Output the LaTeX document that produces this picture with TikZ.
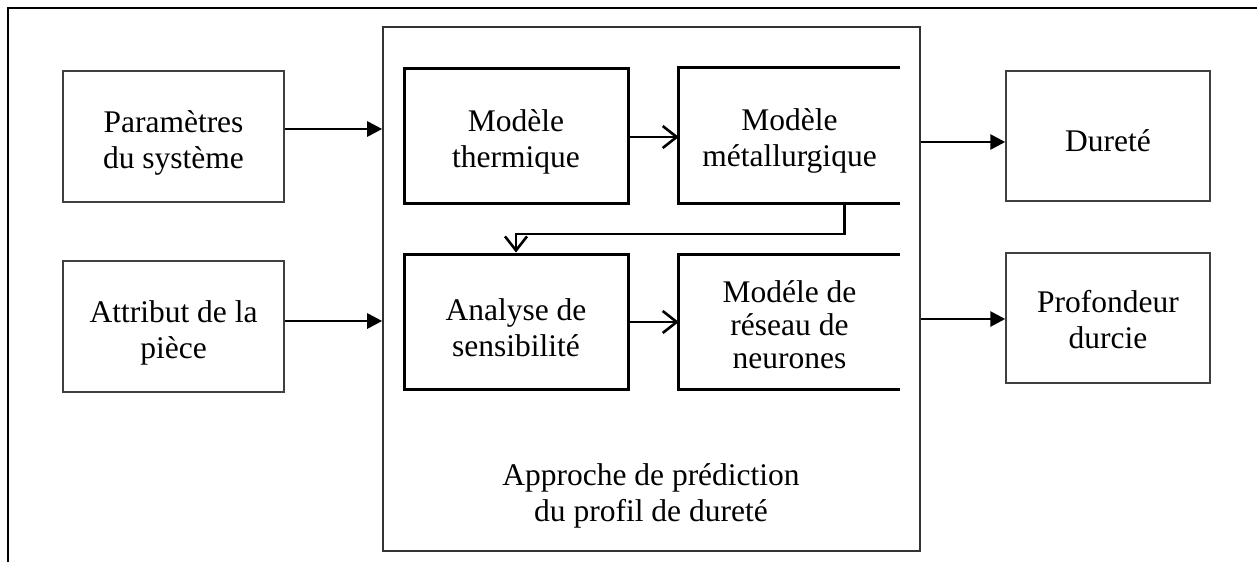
\documentclass[tikz,border=0pt]{standalone}
\usepackage{fontspec}
\setmainfont{Liberation Serif}
\usetikzlibrary{arrows.meta,calc}
\begin{document}
\begin{tikzpicture}[x=1pt,y=-1pt,
  txt/.style={font=\fontsize{31.5}{36}\selectfont, align=center, inner sep=0pt},
  outbox/.style={draw=black!75, line width=1.5pt, minimum width=221pt, minimum height=131pt, inner sep=0pt},
  rbox/.style={draw=black!75, line width=1.5pt, minimum width=204pt, minimum height=130pt, inner sep=0pt},
  inbox/.style={line width=3pt, minimum width=224pt, minimum height=135pt, inner sep=0pt},
  openbox/.style={minimum width=221pt, inner sep=0pt},
  bigarrow/.style={line width=2.8pt, -{Triangle[length=15pt,width=15pt]}},
  smallarrow/.style={line width=2.8pt, -{Straight Barb[length=14pt,width=22pt,line width=2.6pt]}},
  inline/.style={line width=3pt}
]
\useasboundingbox (0,0) rectangle (1257,562);
% outer frame
\coordinate (ftl) at (8,8);
\coordinate (ftr) at (1257,8);
\coordinate (fbl) at (8,562);
\draw[line width=2.8pt] (fbl) -- (ftl) -- (ftr);
% big box
\node[draw=black!80, line width=1.6pt, minimum width=537pt, minimum height=524pt, inner sep=0pt] (big) at (651.5,289) {};
\node[txt] (biglbl) at (651,496) {Approche de prédiction\\du profil de dureté};
% left boxes
\node[outbox] (param) at (173.5,136.5) {};
\node[txt] (paramt) at ([yshift=-6pt]param.center) {Paramètres\\du système};
\node[outbox] (attr) at (173.5,326.5) {};
\node[txt] (attrt) at ([yshift=-6pt]attr.center) {Attribut de la\\pièce};
% right boxes
\node[rbox] (dur) at (1108,136) {};
\node[txt] (durt) at ([yshift=-5pt]dur.center) {Dureté};
\node[rbox] (prof) at (1108,318) {};
\node[txt] (proft) at ([yshift=-2pt]prof.center) {Profondeur\\durcie};
% inner boxes
\node[inbox, draw] (therm) at (516,135.5) {};
\node[txt] (thermt) at ([yshift=-6pt]therm.center) {Modèle\\thermique};
\node[inbox, draw] (anal) at (516,321.5) {};
\node[txt] (analt) at ([yshift=-6pt]anal.center) {Analyse de\\sensibilité};
\node[openbox, minimum height=135pt] (met) at (789.5,135.5) {};
\node[txt] (mett) at ([yshift=-5pt]met.center) {Modèle\\métallurgique};
\node[openbox, minimum height=134pt] (res) at (789.5,322) {};
\node[txt, font=\fontsize{31.5}{33}\selectfont] (rest) at ([yshift=-3pt]res.center) {Modéle de\\réseau de\\neurones};
\draw[inline] (met.north east) -- (met.north west) -- (met.south west) -- (met.south east);
\draw[inline] (res.north east) -- (res.north west) -- (res.south west) -- (res.south east);
% arrows
\draw[bigarrow] (param.east |- 0,129) -- (big.west |- 0,129);
\draw[bigarrow] (attr.east |- 0,321) -- (big.west |- 0,321);
\draw[bigarrow] (big.east |- 0,142) -- (dur.west |- 0,142);
\draw[bigarrow] (big.east |- 0,319) -- (prof.west |- 0,319);
\draw[smallarrow] (therm.east |- 0,137) -- (met.west |- 0,137);
\draw[smallarrow] (anal.east |- 0,322) -- (res.west |- 0,322);
\coordinate (fb) at ($(met.south west)!0.75!(met.south east)$);
\draw[smallarrow] (fb) |- (anal.north |- 0,234) -- (anal.north);
\end{tikzpicture}
\end{document}
